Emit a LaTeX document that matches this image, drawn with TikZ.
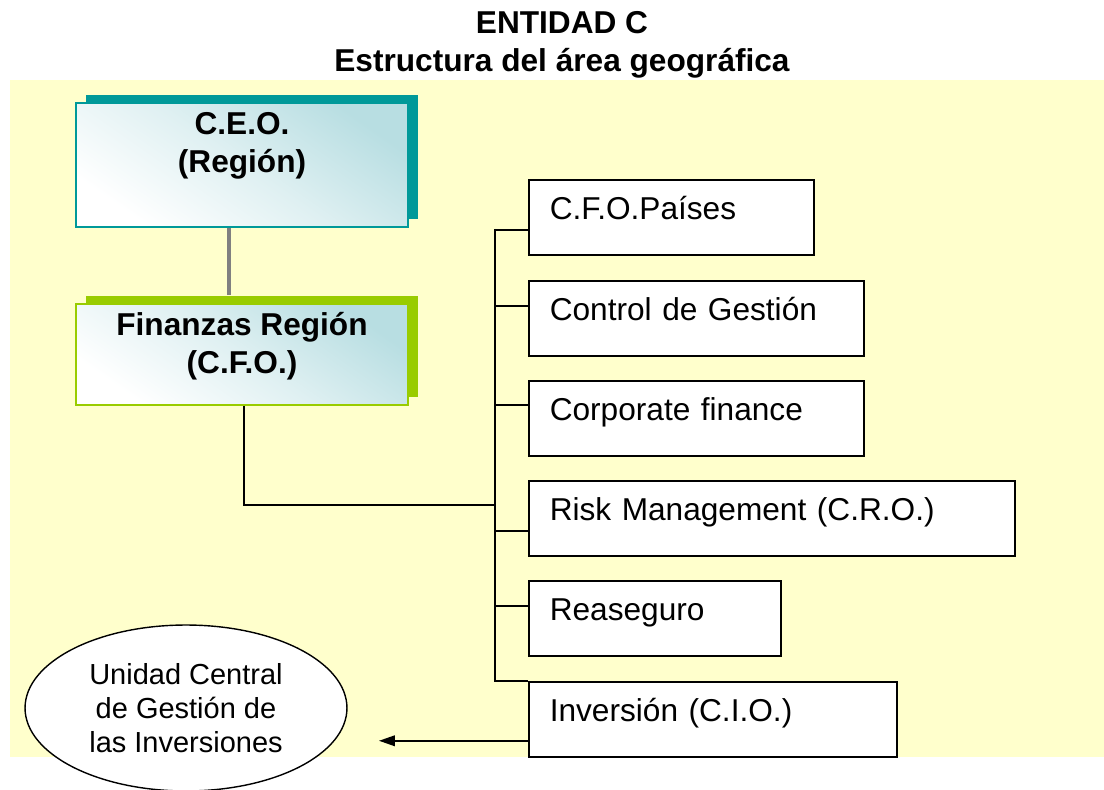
\documentclass[tikz,border=0pt]{standalone}
\usepackage{fontspec}
\setmainfont{Liberation Sans}
\usepackage{xcolor}
\usepackage{tikz}
\usetikzlibrary{shapes.geometric, shadows, arrows.meta}

\definecolor{backyellow}{HTML}{FFFFCC}
\definecolor{ceoteal}{HTML}{009999}
\definecolor{cfogreen}{HTML}{99CC00}
\definecolor{headblue}{HTML}{B8DEE2}

\tikzset{
 headbox/.style={draw=#1, line width=0.9pt, minimum width=6.64cm,
   bottom color=white, top color=headblue, middle color=white!55!headblue,
   shading angle=-35,
   drop shadow={shadow xshift=0.2cm, shadow yshift=0.16cm, fill=#1, opacity=1}},
 headtext/.style={align=center, font=\bfseries\fontsize{18}{21.5}\selectfont},
 unitbox/.style={draw, fill=white, line width=0.9pt, anchor=north west,
   minimum height=1.5cm, inner xsep=0.42cm, align=left,
   text height=14pt, text depth=11pt, font=\fontsize{18}{21}\selectfont},
}

\begin{document}
\begin{tikzpicture}[x=0.02cm, y=-0.02cm]
 \useasboundingbox (0,0) rectangle (1104,790);
 \fill [backyellow] (10,80) rectangle (1104,757);
 \node [headtext] (title) at (562,44.5) {ENTIDAD C\\Estructura del área geográfica};

 % region heads
 \node [headbox=ceoteal, minimum height=2.48cm] (ceo) at (242,165) {};
 \node [headtext] (ceotxt) at (242,146) {C.E.O.\\(Región)};
 \node [headbox=cfogreen, minimum height=2.02cm] (cfo) at (242,354.5) {};
 \node [headtext] (cfotxt) at (242,346.5) {Finanzas Región\\(C.F.O.)};

 % units under the C.F.O.
 \node [unitbox, text width=4.86cm] (paises) at (528,179) {C.F.O.Países};
 \node [unitbox, text width=5.86cm] (control) at (528,280) {Control de Gestión};
 \node [unitbox, text width=5.86cm] (corp) at (528,380) {Corporate finance};
 \node [unitbox, text width=8.88cm] (risk) at (528,480) {Risk Management (C.R.O.)};
 \node [unitbox, text width=4.2cm] (reas) at (528,580) {Reaseguro};
 \node [unitbox, text width=6.52cm] (inv) at (528,681) {Inversión (C.I.O.)};

 \node [ellipse, draw, fill=white, line width=0.8pt, minimum width=6.44cm,
   minimum height=3.32cm, inner sep=0pt, align=center,
   font=\fontsize{16.5}{19.3}\selectfont] (ucgi) at (186,708)
   {Unidad Central\\de Gestión de\\las Inversiones};

 % connectors
 \draw [gray, line width=2.3pt] ([xshift=-0.26cm]ceo.south) -- ([xshift=-0.26cm, yshift=0.16cm]cfo.north);
 \coordinate (bustop) at (495,229);
 \coordinate (busjoin) at (495,505);
 \draw [line width=1pt] ([xshift=0.04cm]cfo.south) |- (busjoin);
 \draw [line width=1pt] (bustop) -- (bustop |- inv.north west) -- (inv.north west);
 \foreach \boxname/\dy in {paises/-0.25, control/0.25, corp/0.27, risk/-0.25, reas/0.24}
   \draw [line width=1pt] ([yshift=\dy cm]\boxname.west) -- ++(-33,0);
 \draw [line width=1pt, -{Triangle[length=9pt, width=6pt]}] ([yshift=-0.43cm]inv.west) -- ++(-149,0) coordinate (arrowend);
\end{tikzpicture}
\end{document}
